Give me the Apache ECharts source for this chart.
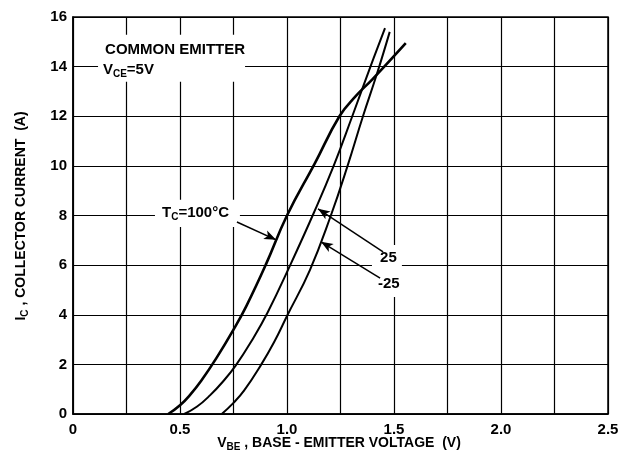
<!DOCTYPE html>
<html>
<head>
<meta charset="utf-8">
<script src="https://cdn.jsdelivr.net/npm/echarts@6/dist/echarts.min.js"></script>
<style>
  html, body { margin: 0; background: #fff; }
  #main { width: 634px; height: 454px; }
</style>
</head>
<body>
<div id="main"></div>
<script>
// curves: VBE (V) vs IC (A)
const vbe100 = [0.445, 0.50, 0.55, 0.60, 0.67, 0.75, 0.81, 0.90, 1.00, 1.13, 1.245, 1.32, 1.40, 1.555];
const ic100  = [0,     0.35, 0.8,  1.35, 2.25, 3.4,  4.35, 6.0,  8.0,  10.1, 12.0,  12.8, 13.5, 14.95];

const vbe25 = [0.52, 0.58, 0.64, 0.70, 0.76, 0.835, 0.91, 1.015, 1.125, 1.218, 1.305, 1.39, 1.458];
const ic25  = [0,    0.3,  0.75, 1.3,  1.95, 2.95,  4.1,  6.0,   8.1,   10.0,  12.0,  14.0, 15.55];

const vbeM25 = [0.695, 0.75, 0.80, 0.88, 0.94, 1.00, 1.107, 1.205, 1.283, 1.355, 1.42, 1.48];
const icM25  = [0,     0.45, 0.95, 2.0,  2.9,  3.95, 5.8,   8.0,   10.0,  12.0,  13.7, 15.4];

const FONT = '"Liberation Sans", Arial, sans-serif';
const sub = { fontSize: 10, fontWeight: 'bold', fontFamily: FONT, lineHeight: 10, verticalAlign: 'bottom' };

function pairs(xs, ys) {
  return xs.map((x, i) => [x, ys[i]]);
}

function arrow(from, to) {
  return [{ coord: from }, { coord: to }];
}

const chart = echarts.init(document.getElementById('main'));

function curve(name, xs, ys, width, arrows) {
  return {
    name: name,
    type: 'line',
    data: pairs(xs, ys),
    smooth: 0.45,
    symbol: 'none',
    lineStyle: { color: '#000', width: width },
    markLine: {
      silent: true,
      symbol: ['none', 'arrow'],
      symbolSize: [7, 12],
      label: { show: false },
      lineStyle: { color: '#000', width: 1.5, type: 'solid' },
      data: arrows
    }
  };
}

chart.setOption({
  animation: false,
  backgroundColor: '#fff',
  grid: { left: 73, right: 26, top: 17, bottom: 40, show: true, borderColor: '#000', borderWidth: 1.5 },
  xAxis: {
    type: 'value',
    min: 0, max: 2.5, interval: 0.25,
    axisLine: { lineStyle: { color: '#000', width: 1.5 } },
    axisTick: { show: false },
    splitLine: { lineStyle: { color: '#000', width: 1.2 } },
    axisLabel: {
      color: '#000', fontSize: 15, fontWeight: 'bold', fontFamily: FONT, margin: 8,
      formatter: function (v) {
        if (Math.abs(v * 2 - Math.round(v * 2)) > 1e-6) return '';
        return v === 0 ? '0' : v.toFixed(1);
      }
    }
  },
  yAxis: {
    type: 'value',
    min: 0, max: 16, interval: 2,
    axisLine: { show: true, lineStyle: { color: '#000', width: 1.5 } },
    axisTick: { show: false },
    splitLine: { lineStyle: { color: '#000', width: 1.2 } },
    axisLabel: { color: '#000', fontSize: 15, fontWeight: 'bold', fontFamily: FONT, margin: 6 }
  },
  series: [
    curve('100', vbe100, ic100, 2.6, [arrow([0.766, 7.74], [0.949, 7.02])]),
    curve('25', vbe25, ic25, 2, [arrow([1.449, 6.53], [1.145, 8.27])]),
    curve('-25', vbeM25, icM25, 2, [arrow([1.435, 5.48], [1.159, 6.94])])
  ]
});

// white boxes behind the in-plot notes (data coords: x1, y1, x2, y2)
const boxes = [
  [0.117, 15.28, 0.804, 13.39],
  [0.383, 8.63, 0.78, 7.54],
  [1.397, 6.81, 1.537, 4.72]
];
const notes = [
  { at: [0.15, 14.68], text: 'COMMON EMITTER' },
  { at: [0.14, 13.87], text: 'V{s|CE}=5V' },
  { at: [0.416, 8.1], text: 'T{s|C}=100°C' },
  { at: [1.435, 6.29], text: '25' },
  { at: [1.425, 5.24], text: '-25' }
];

const graphic = [];
boxes.forEach(b => {
  const p1 = chart.convertToPixel({ gridIndex: 0 }, [b[0], b[1]]);
  const p2 = chart.convertToPixel({ gridIndex: 0 }, [b[2], b[3]]);
  graphic.push({
    type: 'rect', z: 1, silent: true,
    shape: { x: p1[0], y: p1[1], width: p2[0] - p1[0], height: p2[1] - p1[1] },
    style: { fill: '#fff' }
  });
});
notes.forEach(n => {
  const p = chart.convertToPixel({ gridIndex: 0 }, n.at);
  graphic.push({
    type: 'text', z: 5, silent: true, x: p[0], y: p[1],
    style: {
      text: n.text, fill: '#000', fontSize: 15, fontWeight: 'bold', fontFamily: FONT,
      lineHeight: 18, align: 'left', verticalAlign: 'middle', rich: { s: sub }
    }
  });
});
// axis titles
graphic.push({
  type: 'text', z: 5, silent: true, x: 21, y: 216, rotation: Math.PI / 2,
  style: {
    text: 'I{s|C} , COLLECTOR CURRENT  (A)', fill: '#000', fontSize: 14, fontWeight: 'bold',
    fontFamily: FONT, lineHeight: 18, align: 'center', verticalAlign: 'middle', rich: { s: sub }
  }
});
graphic.push({
  type: 'text', z: 5, silent: true, x: 339, y: 443,
  style: {
    text: 'V{s|BE} , BASE - EMITTER VOLTAGE  (V)', fill: '#000', fontSize: 14, fontWeight: 'bold',
    fontFamily: FONT, lineHeight: 18, align: 'center', verticalAlign: 'middle', rich: { s: sub }
  }
});

chart.setOption({ graphic: graphic });
</script>
</body>
</html>
